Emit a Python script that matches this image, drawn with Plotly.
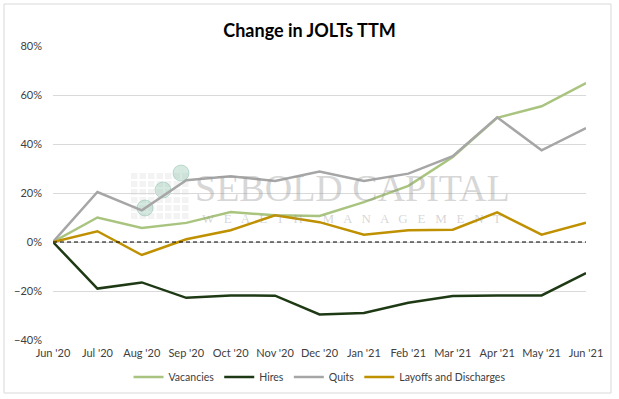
import plotly.graph_objects as go

months = ["Jun '20", "Jul '20", "Aug '20", "Sep '20", "Oct '20", "Nov '20", "Dec '20",
          "Jan '21", "Feb '21", "Mar '21", "Apr '21", "May '21", "Jun '21"]
vacancies = [0, 10.0, 5.7, 7.8, 12.2, 10.9, 10.6, 16.3, 22.9, 34.7, 50.7, 55.4, 64.9]
hires = [0, -19.0, -16.5, -22.8, -21.8, -21.9, -29.6, -29.0, -24.8, -22.0, -21.8, -21.8, -12.7]
quits = [0, 20.4, 12.9, 25.2, 26.8, 24.9, 28.8, 24.9, 27.9, 35.0, 50.9, 37.4, 46.5]
layoffs = [0, 4.4, -5.3, 1.1, 4.8, 10.9, 8.1, 3.0, 4.8, 5.0, 12.1, 3.0, 7.9]

series = [
    ("Vacancies", vacancies, "#A9C47F"),
    ("Hires", hires, "#1E3A14"),
    ("Quits", quits, "#A6A6A6"),
    ("Layoffs and Discharges", layoffs, "#BF9000"),
]

L, R, T, B = 53, 586, 46, 340
W, H = R - L, B - T


def px(x):
    return (x - L) / W


def py(y):
    return (B - y) / H


fig = go.Figure()
for name, vals, color in series:
    fig.add_trace(go.Scatter(
        x=months, y=[v / 100 for v in vals], name=name, mode="lines",
        line=dict(color=color, width=2.5),
    ))

# zero reference line (dashed)
fig.add_shape(type="line", xref="paper", x0=0, x1=1, yref="y", y0=0, y1=0,
              line=dict(color="black", width=1.2, dash="4px,3px"), layer="above")

# outer border
fig.add_shape(type="rect", xref="paper", yref="paper",
              x0=px(4), x1=px(611), y0=py(393), y1=py(4),
              line=dict(color="#D9D9D9", width=1), fillcolor="rgba(0,0,0,0)")

# watermark logo: grid of faint squares
for i in range(7):
    for j in range(6):
        x0 = 131 + i * 8.5
        y0 = 173 + j * 8
        fig.add_shape(type="rect", xref="paper", yref="paper",
                      x0=px(x0), x1=px(x0 + 6.5), y0=py(y0 + 6), y1=py(y0),
                      line=dict(width=0), fillcolor="rgba(200,200,200,0.22)", layer="below")
for cx, cy in [(145, 208), (163, 190), (181, 173)]:
    fig.add_shape(type="circle", xref="paper", yref="paper",
                  x0=px(cx - 8), x1=px(cx + 8), y0=py(cy + 8), y1=py(cy - 8),
                  line=dict(color="rgba(120,180,160,0.4)", width=1),
                  fillcolor="rgba(150,200,180,0.4)", layer="below")

fig.add_annotation(text="SEBOLD CAPITAL",
                   xref="paper", yref="paper", x=px(352), y=py(188),
                   showarrow=False, font=dict(family="Liberation Serif", size=38, color="rgba(150,150,150,0.4)"))
fig.add_annotation(text="W   E   A   L   T   H      M   A   N   A   G   E   M   E   N   T",
                   xref="paper", yref="paper", x=px(351), y=py(218),
                   showarrow=False, font=dict(family="Liberation Serif", size=13, color="rgba(150,150,150,0.4)"))

fig.update_layout(
    width=619, height=399,
    margin=dict(l=L, r=619 - R, t=T, b=399 - B, autoexpand=False),
    paper_bgcolor="white", plot_bgcolor="white",
    title=dict(text="<b>Change in JOLTs TTM</b>", x=0.5, xanchor="center",
               y=1 - 31 / 399, yanchor="middle", yref="container",
               font=dict(family="Lato, Open Sans, sans-serif", size=18, color="black")),
    font=dict(family="Lato, Open Sans, sans-serif", size=11, color="#404040"),
    xaxis=dict(type="category", range=[0, 12], showgrid=False, showline=False,
               ticks="", tickfont=dict(size=11, color="#404040"), automargin=False,
               ticklabelstandoff=5),
    yaxis=dict(range=[-0.4, 0.8], dtick=0.2, tickformat=".0%", showgrid=True,
               gridcolor="#D9D9D9", gridwidth=1, zeroline=False, showline=False,
               ticks="", tickfont=dict(size=11, color="#404040"),
               ticklabelstandoff=10, automargin=False),
    legend=dict(orientation="h", x=0.5, xanchor="center", y=py(377), yanchor="middle",
                font=dict(size=10.5, color="#404040"), itemwidth=30),
    showlegend=True,
)

fig.write_html("out.html", config={"displayModeBar": False},
               post_script="document.body.style.margin='0';document.body.style.padding='0';")
